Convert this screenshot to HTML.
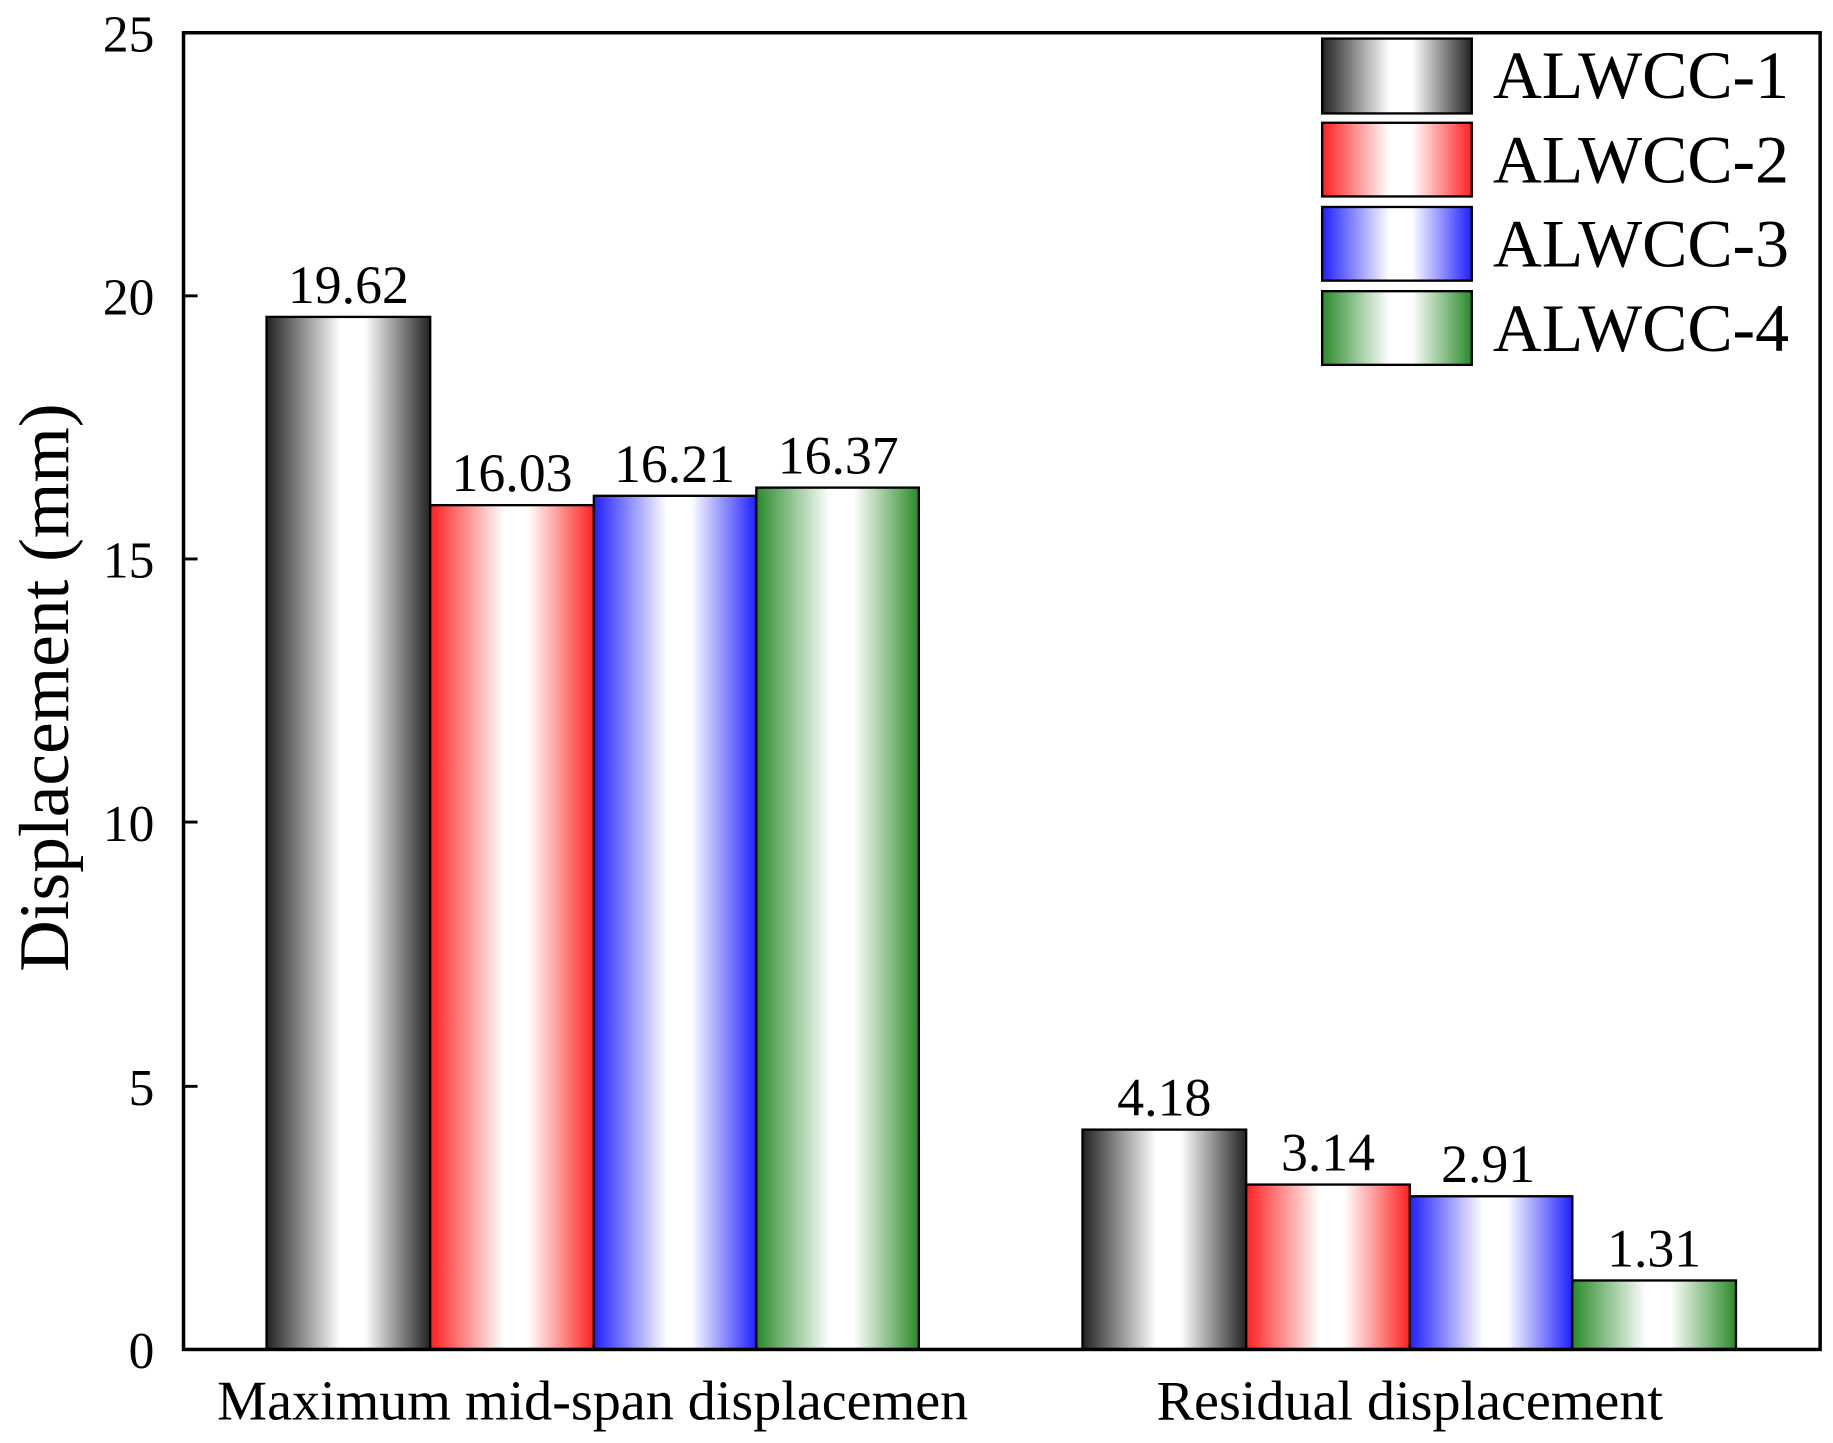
<!DOCTYPE html>
<html><head><style>html,body{margin:0;padding:0;background:#fff}svg{display:block}</style></head>
<body>
<svg width="1833" height="1443" viewBox="0 0 1568 1234" preserveAspectRatio="none" xmlns="http://www.w3.org/2000/svg" font-family="Liberation Serif, serif">
<defs>
<linearGradient id="g1" x1="0" x2="1" y1="0" y2="0"><stop offset="0" stop-color="#222"/><stop offset="0.45" stop-color="#fff"/><stop offset="0.6" stop-color="#fff"/><stop offset="1" stop-color="#222"/></linearGradient>
<linearGradient id="g2" x1="0" x2="1" y1="0" y2="0"><stop offset="0" stop-color="#ff2020"/><stop offset="0.45" stop-color="#fff"/><stop offset="0.6" stop-color="#fff"/><stop offset="1" stop-color="#ff2020"/></linearGradient>
<linearGradient id="g3" x1="0" x2="1" y1="0" y2="0"><stop offset="0" stop-color="#2020ff"/><stop offset="0.45" stop-color="#fff"/><stop offset="0.6" stop-color="#fff"/><stop offset="1" stop-color="#2020ff"/></linearGradient>
<linearGradient id="g4" x1="0" x2="1" y1="0" y2="0"><stop offset="0" stop-color="#2a8a2a"/><stop offset="0.45" stop-color="#fff"/><stop offset="0.6" stop-color="#fff"/><stop offset="1" stop-color="#2a8a2a"/></linearGradient>
</defs>
<g stroke="#000" stroke-width="2">
<rect x="228" y="271" width="140" height="883" fill="url(#g1)"/>
<rect x="368" y="432" width="140" height="722" fill="url(#g2)"/>
<rect x="508" y="424" width="139" height="730" fill="url(#g3)"/>
<rect x="647" y="417" width="139" height="737" fill="url(#g4)"/>
<rect x="926" y="966" width="140" height="188" fill="url(#g1)"/>
<rect x="1066" y="1013" width="140" height="141" fill="url(#g2)"/>
<rect x="1206" y="1023" width="139" height="131" fill="url(#g3)"/>
<rect x="1345" y="1095" width="140" height="59" fill="url(#g4)"/>
<rect x="1131" y="33" width="128" height="64" fill="url(#g1)"/>
<rect x="1131" y="105" width="128" height="63" fill="url(#g2)"/>
<rect x="1131" y="177" width="128" height="63" fill="url(#g3)"/>
<rect x="1131" y="249" width="128" height="63" fill="url(#g4)"/>
</g>
<rect x="157" y="28" width="1400" height="1126" fill="none" stroke="#000" stroke-width="3"/>
<g stroke="#000" stroke-width="2.5">
<line x1="157" y1="253" x2="169" y2="253"/><line x1="157" y1="478" x2="169" y2="478"/><line x1="157" y1="703" x2="169" y2="703"/><line x1="157" y1="929" x2="169" y2="929"/>
</g>
<g font-size="44" text-anchor="end" fill="#000">
<text x="132" y="44">25</text><text x="132" y="269">20</text><text x="132" y="494">15</text><text x="132" y="719">10</text><text x="132" y="945">5</text><text x="132" y="1170">0</text>
</g>
<g font-size="46" text-anchor="middle" fill="#000">
<text x="298" y="259">19.62</text><text x="438" y="420">16.03</text><text x="577" y="412">16.21</text><text x="717" y="405">16.37</text>
<text x="996" y="954">4.18</text><text x="1136" y="1001">3.14</text><text x="1273" y="1011">2.91</text><text x="1415" y="1083">1.31</text>
</g>
<g font-size="48" text-anchor="middle" fill="#000">
<text x="507" y="1214">Maximum mid-span displacemen</text>
<text x="1206" y="1214">Residual displacement</text>
</g>
<text transform="translate(58,588) rotate(-90)" font-size="61" text-anchor="middle">Displacement (mm)</text>
<g font-size="58" fill="#000">
<text x="1277" y="84">ALWCC-1</text><text x="1277" y="156">ALWCC-2</text><text x="1277" y="228">ALWCC-3</text><text x="1277" y="300">ALWCC-4</text>
</g>
</svg>
</body></html>
